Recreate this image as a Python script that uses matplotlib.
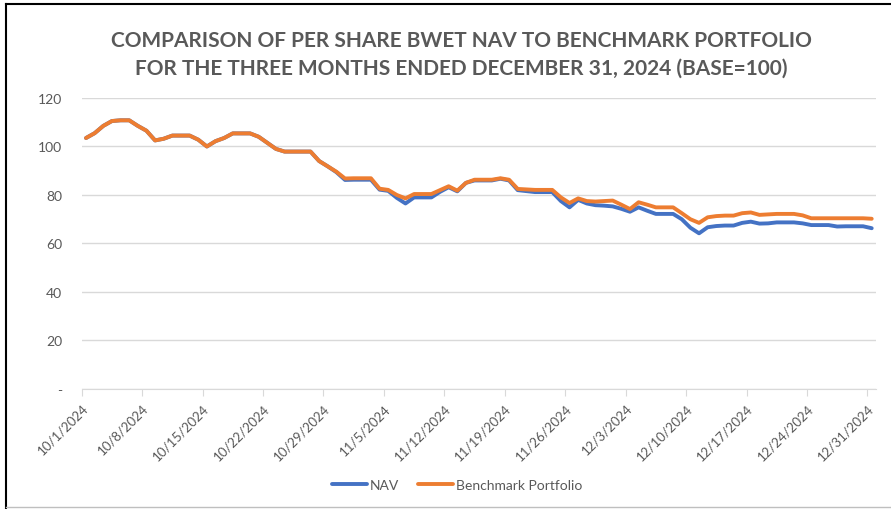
import numpy as np
import pandas as pd
import matplotlib
matplotlib.use('Agg')
import matplotlib.pyplot as plt
import matplotlib.dates as mdates
from matplotlib.lines import Line2D

# daily values, 10/1/2024 .. 12/31/2024 (base = 100)
dates = pd.date_range('2024-10-01', '2024-12-31', freq='D')

benchmark = [103.5, 105.5, 108.5, 110.5, 110.8, 110.8, 108.5, 106.5, 102.5, 103.2,
             104.5, 104.5, 104.5, 102.8, 100.0, 102.2, 103.5, 105.4, 105.4, 105.4,
             104.0, 101.5, 99.0, 97.9, 97.9, 97.9, 97.9, 94.0, 91.8, 89.6,
             86.8, 86.9, 86.9, 86.9, 82.6, 82.1, 80.0, 78.6, 80.4, 80.4,
             80.4, 82.0, 83.6, 81.8, 85.0, 86.3, 86.3, 86.3, 86.9, 86.3,
             82.5, 82.3, 82.1, 82.1, 82.1, 79.0, 76.7, 78.6, 77.5, 77.3,
             77.5, 77.7, 76.0, 74.2, 77.0, 76.0, 74.9, 74.9, 74.9, 72.5,
             70.0, 68.5, 70.8, 71.3, 71.5, 71.5, 72.5, 72.8, 71.8, 72.0,
             72.2, 72.2, 72.2, 71.6, 70.4, 70.4, 70.4, 70.4, 70.4, 70.4,
             70.4, 70.2]

nav = [103.5, 105.5, 108.5, 110.5, 110.8, 110.8, 108.5, 106.5, 102.5, 103.2,
       104.5, 104.5, 104.5, 102.8, 100.0, 102.2, 103.5, 105.4, 105.4, 105.4,
       104.0, 101.5, 99.0, 97.9, 97.9, 97.9, 97.9, 94.0, 91.8, 89.4,
       86.2, 86.3, 86.3, 86.3, 82.2, 81.7, 78.8, 76.5, 79.0, 79.0,
       79.0, 81.3, 83.2, 81.5, 85.0, 86.0, 86.0, 86.0, 86.7, 86.0,
       82.0, 81.6, 81.2, 81.2, 81.2, 77.5, 74.9, 78.0, 76.5, 75.8,
       75.6, 75.3, 74.3, 73.1, 74.9, 73.5, 72.2, 72.2, 72.2, 70.0,
       66.5, 64.2, 66.7, 67.2, 67.4, 67.4, 68.5, 69.0, 68.2, 68.3,
       68.7, 68.7, 68.7, 68.3, 67.6, 67.6, 67.6, 67.0, 67.1, 67.1,
       67.1, 66.3]

tick_dates = pd.date_range('2024-10-01', '2024-12-31', freq='7D')
y_ticks = [0, 20, 40, 60, 80, 100, 120]
y_labels = ['-', '20', '40', '60', '80', '100', '120']

title = ('COMPARISON OF PER SHARE BWET NAV TO BENCHMARK PORTFOLIO\n'
         'FOR THE THREE MONTHS ENDED DECEMBER 31, 2024 (BASE=100)')

grey = '#595959'
plt.rcParams['font.family'] = ['Lato', 'DejaVu Sans']

fig = plt.figure(figsize=(8.91, 5.10), dpi=100)
ax = fig.add_axes([0.0917, 0.2353, 0.8915, 0.5706])

# excel date axis: points sit in the middle of each day slot
x = dates + pd.Timedelta(hours=12)
ax.plot(x, nav, color='#4472C4', lw=2.8, label='NAV', solid_capstyle='round')
ax.plot(x, benchmark, color='#ED7D31', lw=2.8, label='Benchmark Portfolio',
        solid_capstyle='round')

ax.set_xlim(dates[0], dates[-1] + pd.Timedelta(days=1))
ax.set_ylim(0, 120)
ax.set_yticks(y_ticks)
ax.set_yticklabels(y_labels)
ax.set_xticks(tick_dates)
ax.xaxis.set_major_formatter(mdates.DateFormatter('%-m/%-d/%Y'))
plt.setp(ax.get_xticklabels(), rotation=45, ha='right', rotation_mode='anchor')

ax.grid(axis='y', color='#D9D9D9', lw=1)
ax.set_axisbelow(True)
for s in ['top', 'right', 'left']:
    ax.spines[s].set_visible(False)
ax.spines['bottom'].set_color('#D9D9D9')
ax.tick_params(axis='y', length=0, pad=14, labelsize=10, labelcolor=grey)
ax.tick_params(axis='x', length=5, color='#D9D9D9', labelsize=9.5, labelcolor=grey, pad=4)

fig.text(0.518, 0.893, title, ha='center', va='center', fontsize=15,
         fontweight='bold', color=grey, linespacing=1.45)

fig.legend(loc='center', bbox_to_anchor=(0.513, 0.047), ncol=2, frameon=False,
           fontsize=10, labelcolor=grey, handlelength=2.5, handletextpad=0.2,
           columnspacing=1.4)

# screenshot frame
fig.add_artist(Line2D([0.0067, 0.0067], [0.0, 0.99], transform=fig.transFigure,
                      color='black', lw=1.5))
fig.add_artist(Line2D([0.0067, 1.0], [0.99, 0.99], transform=fig.transFigure,
                      color='black', lw=1.5))
fig.add_artist(Line2D([0.0067, 1.0], [0.004, 0.004], transform=fig.transFigure,
                      color='#BFBFBF', lw=1))

fig.savefig('out.png', dpi=100)
